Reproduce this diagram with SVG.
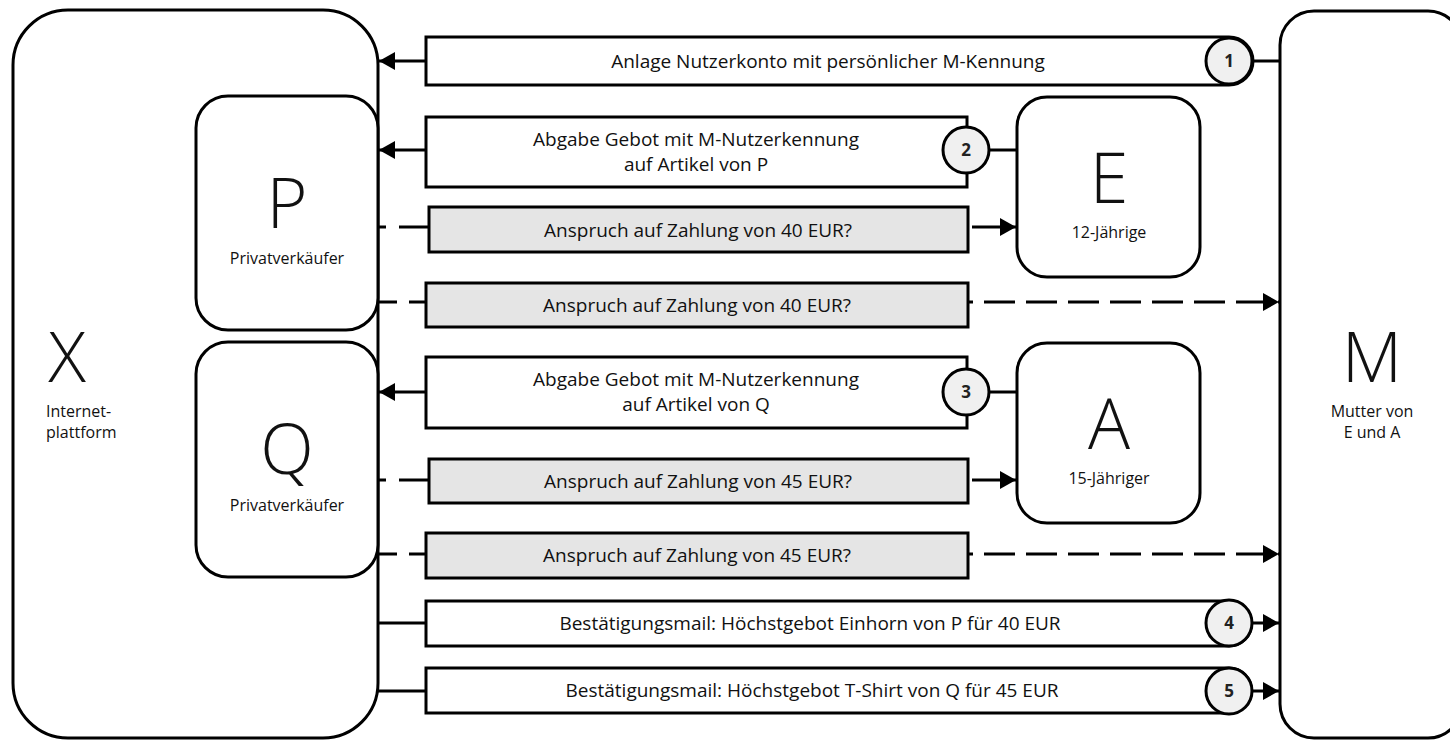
<svg xmlns="http://www.w3.org/2000/svg" width="1450" height="741" viewBox="0 0 1450 741">
<style>
.box{fill:#fff;stroke:#000;stroke-width:3}
.gray{fill:#e5e5e5;stroke:#000;stroke-width:3}
.num{fill:#f0f0f0;stroke:#000;stroke-width:3}
.ln{fill:none;stroke:#000;stroke-width:3}
.dl{fill:none;stroke:#000;stroke-width:3}
text{font-family:"Open Sans","Noto Sans","Liberation Sans",sans-serif;fill:#111}
.big{font-size:70px;font-weight:300;text-anchor:middle}
.sm{font-size:16px;text-anchor:middle}
.lbl{font-size:19px;text-anchor:middle}
.n{font-size:17px;font-weight:700;text-anchor:middle;fill:#222}
</style>
<defs>
<marker id="ah" viewBox="0 0 16 18" refX="16" refY="9" markerWidth="16" markerHeight="18" markerUnits="userSpaceOnUse" orient="auto">
<path d="M0,0 L16,9 L0,18 Z" fill="#000"/>
</marker>
</defs>

<g id="node-X">
<rect class="box" x="13" y="10" width="365" height="728" rx="55"/>
<text class="big" x="67" y="382">X</text>
<text style="font-size:16px" x="46" y="417">Internet-</text>
<text style="font-size:16px" x="46" y="438">plattform</text>
</g>
<g id="node-P">
<rect class="box" x="196" y="96" width="182" height="234" rx="32"/>
<text class="big" x="287" y="228">P</text>
<text class="sm" x="287" y="264">Privatverkäufer</text>
</g>
<g id="node-Q">
<rect class="box" x="196" y="342" width="182" height="235" rx="32"/>
<text class="big" x="287" y="474">Q</text>
<text class="sm" x="287" y="511">Privatverkäufer</text>
</g>
<g id="node-E">
<rect class="box" x="1017" y="97" width="183" height="180" rx="30"/>
<text class="big" x="1109" y="203">E</text>
<text class="sm" x="1109" y="238">12-Jährige</text>
</g>
<g id="node-A">
<rect class="box" x="1017" y="343" width="183" height="180" rx="30"/>
<text class="big" x="1109" y="449">A</text>
<text class="sm" x="1109" y="484">15-Jähriger</text>
</g>
<g id="node-M">
<rect class="box" x="1280" y="11" width="182" height="727" rx="34"/>
<text class="big" x="1372" y="382">M</text>
<text class="sm" x="1372" y="417">Mutter von</text>
<text class="sm" x="1372" y="438">E und A</text>
</g>

<g id="connectors">
<line class="ln" x1="1252" y1="61" x2="1280" y2="61"/>
<line class="ln" x1="426" y1="61" x2="379" y2="61" marker-end="url(#ah)"/>
<line class="ln" x1="989" y1="150" x2="1017" y2="150"/>
<line class="ln" x1="426" y1="150" x2="379" y2="150" marker-end="url(#ah)"/>
<line class="dl" x1="429" y1="227" x2="378" y2="227" stroke-dasharray="30 13"/>
<line class="ln" x1="972" y1="227" x2="1016" y2="227" marker-end="url(#ah)"/>
<line class="dl" x1="378" y1="302" x2="426" y2="302" stroke-dasharray="19 12"/>
<line class="dl" x1="968" y1="302" x2="1279" y2="302" stroke-dasharray="31 11" stroke-dashoffset="26" marker-end="url(#ah)"/>
<line class="ln" x1="989" y1="392" x2="1017" y2="392"/>
<line class="ln" x1="426" y1="392" x2="379" y2="392" marker-end="url(#ah)"/>
<line class="dl" x1="429" y1="480" x2="378" y2="480" stroke-dasharray="30 13"/>
<line class="ln" x1="972" y1="480" x2="1016" y2="480" marker-end="url(#ah)"/>
<line class="dl" x1="378" y1="554" x2="426" y2="554" stroke-dasharray="19 12"/>
<line class="dl" x1="968" y1="554" x2="1279" y2="554" stroke-dasharray="31 11" stroke-dashoffset="26" marker-end="url(#ah)"/>
<line class="ln" x1="378" y1="623" x2="426" y2="623"/>
<line class="ln" x1="1252" y1="623" x2="1279" y2="623" marker-end="url(#ah)"/>
<line class="ln" x1="378" y1="691" x2="426" y2="691"/>
<line class="ln" x1="1252" y1="691" x2="1279" y2="691" marker-end="url(#ah)"/>
</g>

<g id="msg1">
<path class="box" d="M426,37 H1229 A24,24 0 0 1 1229,85 H426 Z"/>
<text class="lbl" x="828" y="68">Anlage Nutzerkonto mit persönlicher M-Kennung</text>
<circle class="num" cx="1229" cy="61" r="23"/>
<text class="n" x="1229" y="67">1</text>
</g>
<g id="msg2">
<rect class="box" x="426" y="117" width="541" height="70"/>
<text class="lbl" x="696" y="146">Abgabe Gebot mit M-Nutzerkennung</text>
<text class="lbl" x="696" y="171">auf Artikel von P</text>
<circle class="num" cx="966" cy="150" r="23"/>
<text class="n" x="966" y="156">2</text>
</g>
<g id="claim1">
<rect class="gray" x="429" y="207" width="539" height="45"/>
<text class="lbl" x="698" y="237">Anspruch auf Zahlung von 40 EUR?</text>
</g>
<g id="claim2">
<rect class="gray" x="426" y="283" width="542" height="44"/>
<text class="lbl" x="697" y="312">Anspruch auf Zahlung von 40 EUR?</text>
</g>
<g id="msg3">
<rect class="box" x="426" y="357" width="541" height="71"/>
<text class="lbl" x="696" y="386">Abgabe Gebot mit M-Nutzerkennung</text>
<text class="lbl" x="696" y="411">auf Artikel von Q</text>
<circle class="num" cx="966" cy="392" r="23"/>
<text class="n" x="966" y="398">3</text>
</g>
<g id="claim3">
<rect class="gray" x="429" y="459" width="539" height="44"/>
<text class="lbl" x="698" y="488">Anspruch auf Zahlung von 45 EUR?</text>
</g>
<g id="claim4">
<rect class="gray" x="426" y="533" width="542" height="45"/>
<text class="lbl" x="697" y="562">Anspruch auf Zahlung von 45 EUR?</text>
</g>
<g id="msg4">
<path class="box" d="M426,601 H1229 A22.5,22.5 0 0 1 1229,646 H426 Z"/>
<text class="lbl" x="810" y="630">Bestätigungsmail: Höchstgebot Einhorn von P für 40 EUR</text>
<circle class="num" cx="1229" cy="623" r="23"/>
<text class="n" x="1229" y="629">4</text>
</g>
<g id="msg5">
<path class="box" d="M426,668 H1229 A22.5,22.5 0 0 1 1229,713 H426 Z"/>
<text class="lbl" x="812" y="697">Bestätigungsmail: Höchstgebot T-Shirt von Q für 45 EUR</text>
<circle class="num" cx="1229" cy="691" r="23"/>
<text class="n" x="1229" y="697">5</text>
</g>
</svg>
